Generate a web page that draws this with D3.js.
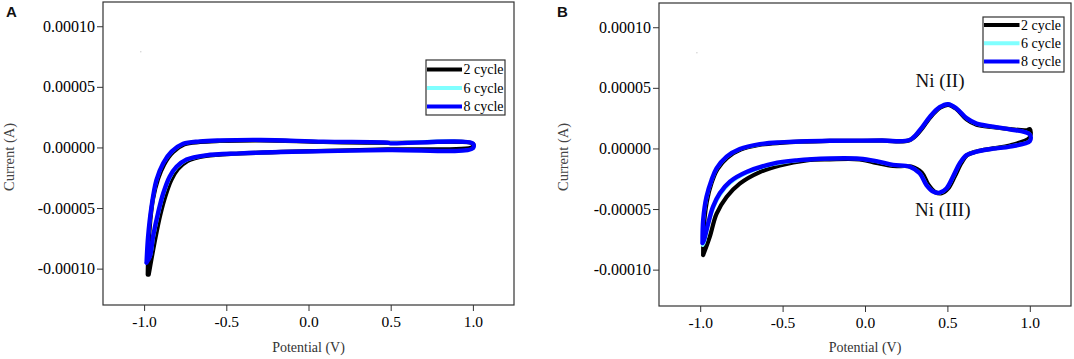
<!DOCTYPE html>
<html>
<head>
<meta charset="utf-8">
<script src="https://cdn.jsdelivr.net/npm/d3@7/dist/d3.min.js"></script>
<style>
  html, body { margin: 0; padding: 0; background: #fff; }
  svg { display: block; }
</style>
</head>
<body>
<svg id="chart" width="1074" height="359"></svg>
<script>
// ---------------- DATA ----------------
const seriesNames = ["2 cycle", "6 cycle", "8 cycle"];
const seriesColors = ["#000000", "#80ffff", "#0000ff"];
const xTicks = [-1.0, -0.5, 0.0, 0.5, 1.0];
const yTicks = [0.0001, 0.00005, 0, -0.00005, -0.0001];
const xDomain = [-1.25, 1.25];
const yDomain = [-0.00013, 0.00012];

// Panel A: potential (V), current (A)
const panelA_2cycle = [
  [-0.978, -1.05e-4], [-0.974, -8.5e-5], [-0.962, -6.0e-5], [-0.945, -4.2e-5],
  [-0.915, -2.6e-5], [-0.878, -1.4e-5], [-0.825, -4.0e-6], [-0.755, 2.5e-6],
  [-0.66, 4.5e-6], [-0.54, 5.3e-6], [-0.29, 5.8e-6], [0.09, 4.5e-6],
  [0.48, 3.8e-6], [1.0, 3.0e-6], [1.0, 6e-7], [0.48, -1.6e-6],
  [-0.10, -3.4e-6], [-0.415, -5.0e-6], [-0.624, -7.0e-6], [-0.735, -1.1e-5],
  [-0.795, -1.8e-5], [-0.835, -2.7e-5], [-0.87, -4.0e-5], [-0.902, -5.6e-5],
  [-0.93, -7.4e-5], [-0.955, -9.2e-5], [-0.972, -1.05e-4]
];
const panelA_6cycle = [
  [-0.984, -9.4e-5], [-0.975, -7.4e-5], [-0.954, -4.9e-5], [-0.923, -2.7e-5],
  [-0.882, -1.3e-5], [-0.83, -3.6e-6], [-0.76, 3.0e-6], [-0.661, 5.0e-6],
  [-0.54, 5.7e-6], [-0.29, 6.1e-6], [0.09, 4.7e-6], [0.48, 3.9e-6],
  [1.0, 3.2e-6], [1.0, -7e-7], [0.48, -2.2e-6], [-0.10, -3.6e-6],
  [-0.415, -5.0e-6], [-0.624, -6.6e-6], [-0.74, -1.05e-5], [-0.80, -1.65e-5],
  [-0.841, -2.45e-5], [-0.881, -3.85e-5], [-0.912, -5.45e-5], [-0.942, -7.35e-5],
  [-0.963, -9.0e-5], [-0.984, -9.4e-5]
];
const panelA_8cycle = [
  [-0.985, -9.5e-5], [-0.976, -7.4e-5], [-0.955, -4.9e-5], [-0.925, -2.7e-5],
  [-0.884, -1.3e-5], [-0.833, -3.5e-6], [-0.763, 3.0e-6], [-0.661, 5.0e-6],
  [-0.54, 5.8e-6], [-0.29, 6.2e-6], [0.09, 4.8e-6], [0.48, 4.0e-6],
  [0.50, 3.4e-6], [1.0, 3.2e-6], [1.0, -6e-7], [0.48, -2.1e-6],
  [-0.10, -3.5e-6], [-0.415, -4.9e-6], [-0.624, -6.5e-6], [-0.742, -1.0e-5],
  [-0.803, -1.6e-5], [-0.844, -2.4e-5], [-0.884, -3.8e-5], [-0.915, -5.4e-5],
  [-0.945, -7.3e-5], [-0.965, -9.0e-5], [-0.985, -9.5e-5]
];

// Panel B: potential (V), current (A)
const panelB_2cycle = [
  [-0.982, -8.8e-5], [-0.978, -6.5e-5], [-0.96, -4.4e-5], [-0.93, -2.8e-5],
  [-0.895, -1.7e-5], [-0.835, -7.5e-6], [-0.755, -1.0e-6], [-0.638, 3.0e-6],
  [-0.517, 4.6e-6], [-0.214, 6.2e-6], [0.10, 6.4e-6], [0.27, 6.8e-6],
  [0.335, 1.45e-5], [0.395, 2.55e-5], [0.455, 3.35e-5], [0.505, 3.6e-5],
  [0.555, 3.25e-5], [0.616, 2.4e-5], [0.677, 1.95e-5], [0.778, 1.75e-5],
  [0.879, 1.6e-5], [0.98, 1.5e-5], [1.0, 1.6e-5], [1.0, 9.0e-6],
  [0.879, 2.5e-6], [0.778, 0], [0.677, -2.5e-6], [0.62, -5.5e-6],
  [0.585, -1.2e-5], [0.545, -2.3e-5], [0.505, -3.3e-5], [0.465, -3.7e-5],
  [0.425, -3.6e-5], [0.385, -3.0e-5], [0.345, -2.0e-5], [0.28, -1.5e-5],
  [0.17, -1.45e-5], [0.069, -1.2e-5], [-0.032, -9.0e-6], [-0.214, -9.0e-6],
  [-0.355, -9.8e-6], [-0.517, -1.4e-5], [-0.638, -1.95e-5], [-0.76, -2.9e-5],
  [-0.84, -4.0e-5], [-0.901, -5.4e-5], [-0.942, -7.3e-5], [-0.982, -8.8e-5]
];
const panelB_6cycle = [
  [-0.985, -8.0e-5], [-0.981, -6.0e-5], [-0.961, -4.1e-5], [-0.93, -2.65e-5],
  [-0.9, -1.68e-5], [-0.839, -7.0e-6], [-0.759, -7e-7], [-0.638, 3.4e-6],
  [-0.517, 4.9e-6], [-0.214, 6.3e-6], [0.10, 6.5e-6], [0.27, 7.0e-6],
  [0.333, 1.5e-5], [0.394, 2.6e-5], [0.454, 3.4e-5], [0.505, 3.7e-5],
  [0.556, 3.3e-5], [0.616, 2.48e-5], [0.677, 2.02e-5], [0.778, 1.78e-5],
  [0.879, 1.57e-5], [1.0, 1.2e-5], [1.0, 6.5e-6], [0.879, 1.8e-6],
  [0.778, -1e-7], [0.677, -2.6e-6], [0.617, -5.5e-6], [0.578, -1.2e-5],
  [0.538, -2.3e-5], [0.497, -3.3e-5], [0.456, -3.67e-5], [0.416, -3.57e-5],
  [0.375, -3.0e-5], [0.335, -2.05e-5], [0.273, -1.52e-5], [0.17, -1.38e-5],
  [0.069, -1.08e-5], [-0.032, -8.6e-6], [-0.214, -8.5e-6], [-0.416, -1.02e-5],
  [-0.558, -1.32e-5], [-0.719, -2.05e-5], [-0.82, -2.9e-5], [-0.881, -3.9e-5],
  [-0.922, -5.0e-5], [-0.952, -6.4e-5], [-0.976, -7.8e-5], [-0.985, -8.0e-5]
];
const panelB_8cycle = [
  [-0.986, -7.8e-5], [-0.982, -5.9e-5], [-0.962, -4.0e-5], [-0.931, -2.6e-5],
  [-0.901, -1.65e-5], [-0.84, -6.8e-6], [-0.76, -5e-7], [-0.638, 3.5e-6],
  [-0.517, 5.0e-6], [-0.214, 6.3e-6], [0.10, 6.5e-6], [0.27, 7.0e-6],
  [0.332, 1.5e-5], [0.393, 2.6e-5], [0.453, 3.4e-5], [0.504, 3.65e-5],
  [0.555, 3.3e-5], [0.616, 2.5e-5], [0.677, 2.05e-5], [0.778, 1.8e-5],
  [0.879, 1.58e-5], [1.0, 1.15e-5], [1.0, 6.0e-6], [0.879, 1.5e-6],
  [0.778, -2e-7], [0.677, -2.7e-6], [0.616, -5.5e-6], [0.576, -1.2e-5],
  [0.535, -2.3e-5], [0.494, -3.3e-5], [0.453, -3.65e-5], [0.413, -3.55e-5],
  [0.372, -3.0e-5], [0.332, -2.05e-5], [0.271, -1.5e-5], [0.17, -1.35e-5],
  [0.069, -1.05e-5], [-0.032, -8.5e-6], [-0.214, -8.3e-6], [-0.416, -9.8e-6],
  [-0.558, -1.25e-5], [-0.719, -1.95e-5], [-0.82, -2.75e-5], [-0.881, -3.7e-5],
  [-0.922, -4.8e-5], [-0.952, -6.2e-5], [-0.978, -7.6e-5], [-0.986, -7.8e-5]
];

const annotationsB = [
  { text: "Ni (II)", x: 0.455, y: 5.1e-5 },
  { text: "Ni (III)", x: 0.472, y: -5.55e-5 }
];

// ---------------- DRAWING ----------------
const svg = d3.select("#chart");
const serif = '"Liberation Serif", "Times New Roman", serif';
const sans = '"Liberation Sans", Arial, sans-serif';

function drawPanel(cfg) {
  const x = d3.scaleLinear().domain(xDomain).range([cfg.left, cfg.right]);
  const y = d3.scaleLinear().domain(yDomain).range([cfg.bottom, cfg.top]);
  const g = svg.append("g");

  // axes
  const yAxis = d3.axisLeft(y).tickValues(yTicks).tickSize(6).tickSizeOuter(0).tickPadding(2)
    .tickFormat(d3.format(".5f"));
  const xAxis = d3.axisBottom(x).tickValues(xTicks).tickSize(6).tickSizeOuter(0).tickPadding(5)
    .tickFormat(d3.format(".1f"));
  const ya = g.append("g").attr("transform", `translate(${cfg.left},0)`).call(yAxis);
  const xa = g.append("g").attr("transform", `translate(0,${cfg.bottom})`).call(xAxis);
  [ya, xa].forEach(a => {
    a.attr("font-family", serif);
    a.select(".domain").remove();
    a.selectAll(".tick line").attr("stroke", "#333").attr("stroke-width", 1);
    a.selectAll(".tick text").attr("font-family", serif).attr("fill", "#000");
  });
  ya.attr("font-size", 16);
  xa.attr("font-size", 15.5);
  ya.selectAll(".tick text").attr("font-size", 16).text(d => d3.format(".5f")(d).replace("−", "-"));
  xa.selectAll(".tick text").attr("font-size", 15.5).text(d => d3.format(".1f")(d).replace("−", "-"));

  // frame
  g.append("rect")
    .attr("x", cfg.left).attr("y", cfg.top)
    .attr("width", cfg.right - cfg.left).attr("height", cfg.bottom - cfg.top)
    .attr("fill", "none").attr("stroke", "#333").attr("stroke-width", 1.2);

  // tiny speck
  g.append("circle").attr("cx", x(-1.02)).attr("cy", y(7.9e-5)).attr("r", 0.7).attr("fill", "#ccc");

  // curves
  const line = d3.line().x(d => x(d[0])).y(d => y(d[1])).curve(d3.curveCatmullRom.alpha(0.5));
  const widths = [4.2, 3.2, 4.4];
  cfg.series.forEach((s, i) => {
    g.append("path").datum(s).attr("d", line)
      .attr("fill", "none").attr("stroke", seriesColors[i])
      .attr("stroke-width", widths[i]).attr("stroke-linejoin", "round").attr("stroke-linecap", "round");
  });

  // legend
  const L = cfg.legend;
  g.append("rect").attr("x", L.x).attr("y", L.y).attr("width", L.w).attr("height", L.h)
    .attr("fill", "#fff").attr("stroke", "#333").attr("stroke-width", 1.2);
  seriesNames.forEach((n, i) => {
    const yy = L.y + L.first + i * L.step;
    g.append("line").attr("x1", L.x + 1).attr("x2", L.x + L.lineLen).attr("y1", yy).attr("y2", yy)
      .attr("stroke", seriesColors[i]).attr("stroke-width", 4);
    g.append("text").attr("x", L.x + L.lineLen + 1.5).attr("y", yy).attr("dy", "0.33em")
      .attr("font-family", serif).attr("font-size", 14).attr("fill", "#000").text(n);
  });

  // axis titles
  g.append("text").attr("x", (x(0))).attr("y", 352).attr("text-anchor", "middle")
    .attr("font-family", serif).attr("font-size", 14).attr("fill", "#333").text("Potential (V)");
  g.append("text").attr("transform", `translate(${cfg.yTitleX},157) rotate(-90)`).attr("text-anchor", "middle")
    .attr("font-family", serif).attr("font-size", 14.5).attr("fill", "#444").text("Current (A)");

  // panel letter
  g.append("text").attr("x", cfg.letterX).attr("y", 17).attr("font-family", sans).attr("font-weight", "bold")
    .attr("font-size", 15).attr("fill", "#111").text(cfg.letter);

  (cfg.annotations || []).forEach(a => {
    g.append("text").attr("x", x(a.x)).attr("y", y(a.y)).attr("text-anchor", "middle")
      .attr("font-family", serif).attr("font-size", 19).attr("fill", "#111").text(a.text);
  });
}

drawPanel({
  left: 103, right: 514, top: 2, bottom: 305,
  series: [panelA_2cycle, panelA_6cycle, panelA_8cycle],
  legend: { x: 426, y: 60, w: 79, h: 55, first: 9.5, step: 18.5, lineLen: 36 },
  yTitleX: 13.5, letter: "A", letterX: 6
});
drawPanel({
  left: 659, right: 1071, top: 3, bottom: 306,
  series: [panelB_2cycle, panelB_6cycle, panelB_8cycle],
  legend: { x: 983, y: 17, w: 81, h: 55, first: 8, step: 18.3, lineLen: 36.5 },
  yTitleX: 567.5, letter: "B", letterX: 557,
  annotations: annotationsB
});
</script>
</body>
</html>
